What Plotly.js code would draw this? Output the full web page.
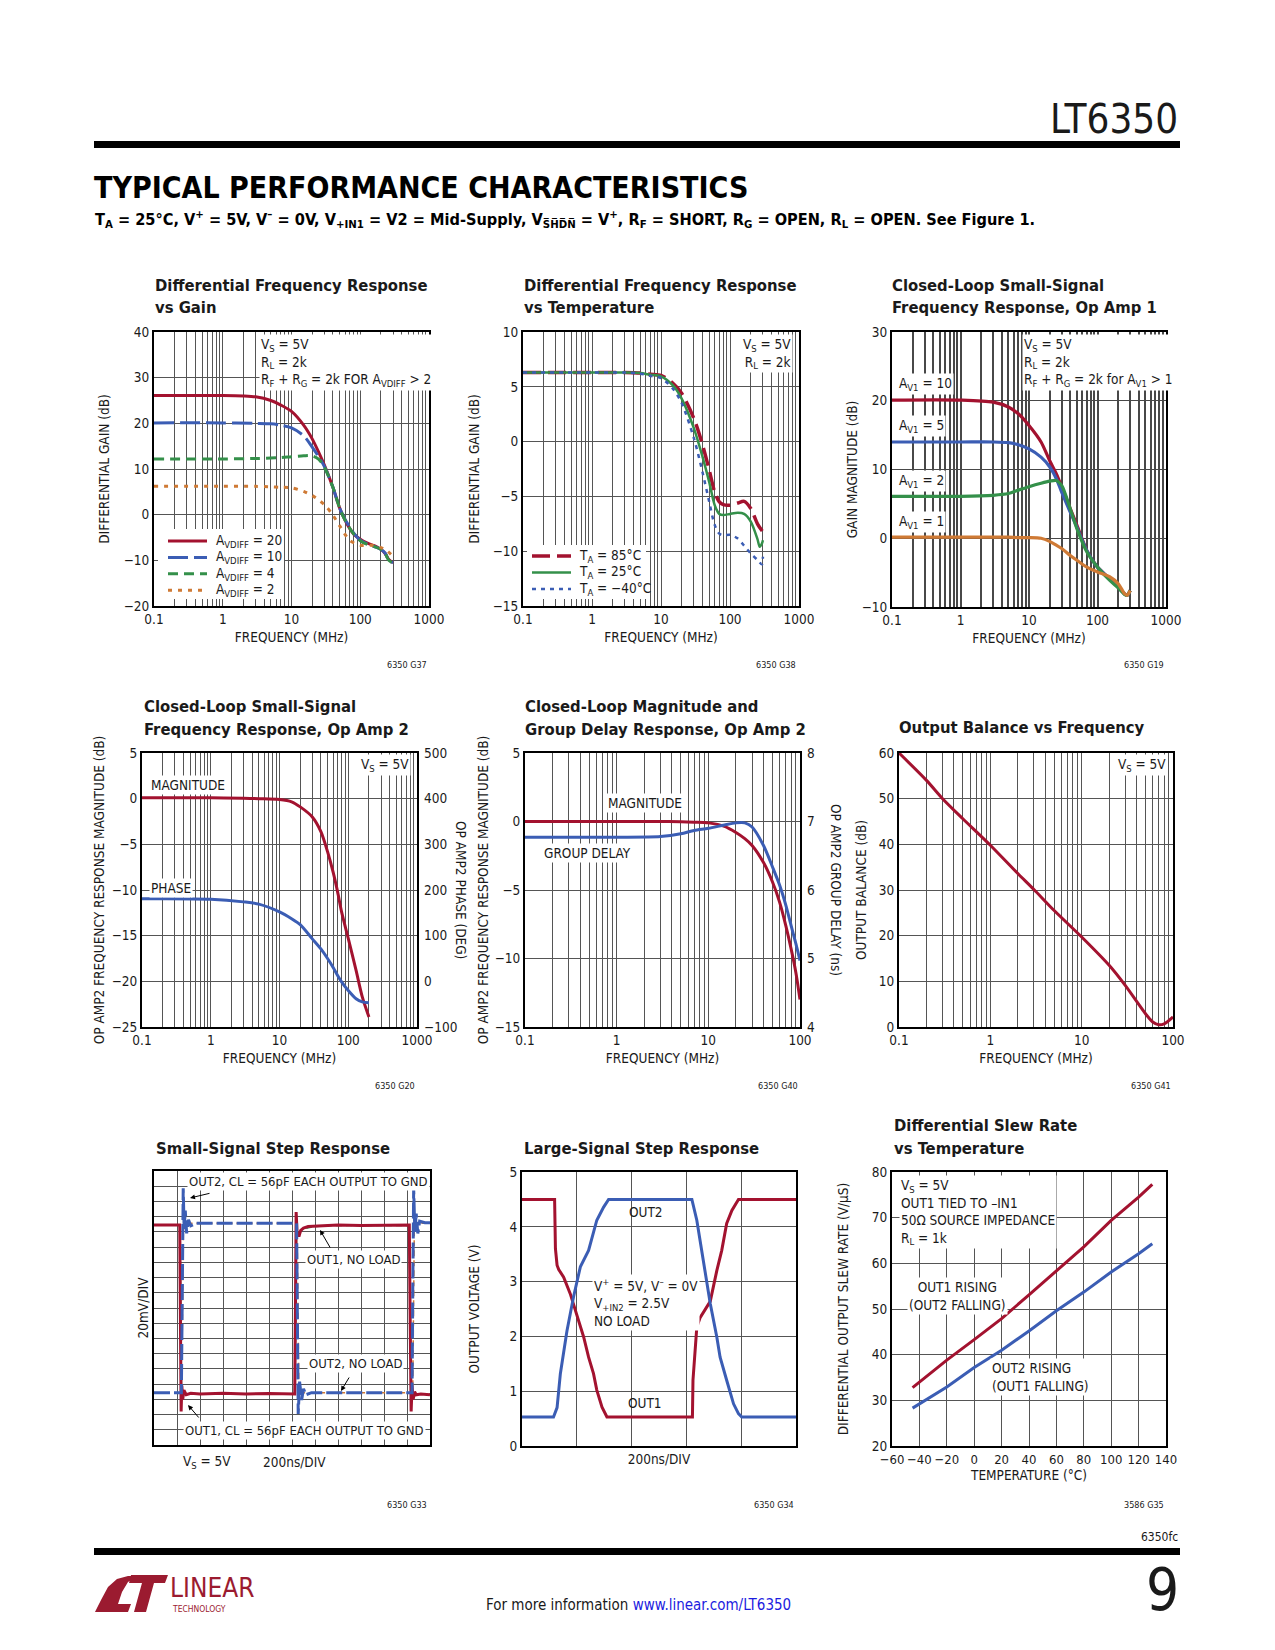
<!DOCTYPE html>
<html><head><meta charset="utf-8">
<script src="https://cdn.plot.ly/plotly-3.0.1.min.js"></script>
<style>html,body{margin:0;padding:0;background:#fff}#page{width:1275px;height:1650px}</style>
</head><body><div id="page"></div>
<script>
// ---------------- DATA ----------------
// Tick labels
const freqLabels1000 = ['0.1','1','10','100','1000'];
const freqLabels100 = ['0.1','1','10','100'];

// G37 Differential Frequency Response vs Gain
const g37FreqA20 = [0.1,0.5,1,2,3,5,7,10,15,20,25,30,40,50,60,70,80,100,130,160,200,230,260,300];
const g37GainA20 = [26.1,26.1,26.1,26.0,25.8,25.0,24.0,22.6,19.6,16.6,13.6,10.9,6.0,1.5,-1.2,-3.0,-4.2,-5.4,-6.3,-6.8,-7.6,-8.5,-9.8,-10.5];
const g37FreqA10 = [0.1,1,3,5,7,10,15,20,25,30,40,50,60,80,100,130,160,200,230,260,300];
const g37GainA10 = [20.1,20.1,20.0,19.9,19.6,19.0,17.3,14.8,12.6,10.6,6.0,1.5,-1.0,-4.0,-5.6,-6.5,-7.0,-7.6,-8.4,-10.0,-10.5];
const g37FreqA4 = [0.1,1,3,5,7,10,15,20,25,30,40,50,60,80,100,130,160,200,230,260,300];
const g37GainA4 = [12.2,12.2,12.3,12.4,12.5,12.7,12.9,12.9,12.1,10.4,6.0,1.5,-1.2,-4.2,-5.7,-6.6,-7.0,-7.6,-8.5,-10.0,-10.6];
const g37FreqA2 = [0.1,1,3,5,7,10,15,20,30,40,50,70,100,150,200,250,300];
const g37GainA2 = [6.2,6.2,6.2,6.1,6.0,5.9,5.1,4.2,2.2,-0.1,-2.4,-5.6,-6.7,-6.7,-7.2,-8.0,-9.2];
const g37Names = ['A<sub>VDIFF</sub> = 20','A<sub>VDIFF</sub> = 10','A<sub>VDIFF</sub> = 4','A<sub>VDIFF</sub> = 2'];

// G38 Differential Frequency Response vs Temperature
const g38Freq85 = [0.1,1,3,5,7,10,15,20,30,40,50,60,70,80,100,130,160,200,250,300];
const g38Gain85 = [6.3,6.3,6.3,6.25,6.15,6.05,5.3,4.4,2.1,-0.3,-2.6,-4.6,-5.5,-5.75,-5.8,-5.6,-5.45,-6.1,-7.5,-8.25];
const g38Freq25 = [0.1,1,3,5,7,10,15,20,30,40,50,60,70,80,100,130,160,200,250,270,290,300];
const g38Gain25 = [6.3,6.3,6.3,6.25,6.1,5.95,5.1,3.9,1.2,-1.4,-3.7,-5.8,-6.6,-6.7,-6.6,-6.5,-6.6,-7.3,-8.9,-9.6,-9.3,-9.0];
const g38FreqM40 = [0.1,1,3,5,7,10,15,20,30,40,50,60,70,80,100,130,160,200,250,290,300];
const g38GainM40 = [6.3,6.3,6.3,6.2,6.0,5.8,4.8,3.5,0.3,-2.8,-5.5,-7.6,-8.4,-8.55,-8.5,-8.85,-9.5,-10.2,-10.8,-11.2,-10.5];
const g38Names = ['T<sub>A</sub> = 85°C','T<sub>A</sub> = 25°C','T<sub>A</sub> = −40°C'];

// G19 Closed-Loop Small-Signal Frequency Response, Op Amp 1
const g19Freq = [0.1,1,3,5,7,10,15,20,25,30,40,50,70,100,150,200,250,270,300];
const g19Av10 = [20.1,20.1,19.8,19.1,18.1,16.4,14.0,11.3,9.4,7.5,4.3,1.9,-1.8,-4.2,-5.9,-7.1,-8.1,-8.3,-7.6];
const g19Av5 = [14.0,14.0,14.0,13.9,13.6,13.0,11.8,10.4,8.7,6.7,3.8,1.6,-1.8,-4.2,-5.9,-7.1,-8.1,-8.3,-7.6];
const g19Av2 = [6.1,6.1,6.25,6.5,7.0,7.5,8.0,8.3,8.4,7.7,4.3,1.4,-2.0,-4.2,-6.1,-7.2,-8.2,-8.3,-7.6];
const g19Av1 = [0.15,0.15,0.15,0.15,0.1,0.1,0.0,-0.45,-1.0,-1.5,-2.5,-3.2,-4.2,-4.9,-5.6,-6.6,-8.1,-8.3,-7.6];

// G20 Closed-Loop Small-Signal Frequency Response, Op Amp 2
const g20Freq = [0.1,1,3,5,10,15,20,30,40,50,60,70,80,100,130,160,200];
const g20Mag = [0.1,0.1,0.05,0.0,-0.1,-0.35,-0.9,-2.0,-3.6,-5.8,-8.0,-10.2,-12.4,-15.3,-18.8,-21.7,-23.9];
const g20Phase = [181,180,174,169,152,137,124,93,71,50,31,13,-1,-20,-38,-45,-47];

// G40 Closed-Loop Magnitude and Group Delay Response, Op Amp 2
const g40Freq = [0.1,1,3,5,7,10,15,20,25,30,40,50,60,70,80,90,100];
const g40Mag = [0.0,0.0,0.0,-0.02,-0.05,-0.1,-0.35,-0.8,-1.25,-1.75,-3.0,-4.4,-5.9,-7.6,-9.3,-11.0,-13.0];
const g40Delay = [6.77,6.77,6.78,6.82,6.87,6.9,6.95,6.98,6.98,6.92,6.65,6.34,6.07,5.78,5.48,5.22,4.97];

// G41 Output Balance vs Frequency
const g41Freq = [0.1,0.2,0.3,0.5,1,2,3,5,10,20,30,50,60,70,80,100];
const g41Balance = [60,54,50,45.6,39.8,33.6,30.1,25.5,19.7,13.5,9.1,2.9,1.1,0.5,0.7,2.2];

// G33 Small-Signal Step Response (time and level in screen divisions)
const g33Out1ClT = [0,1.12,1.15,1.18,1.21,1.25,1.3,1.4,1.6,2,3,4,5,6.12,6.15,6.18,6.22,6.3,6.38,6.5,6.7,7.2,8,9,10,11.1,11.14,11.18,11.22,11.27,11.33,11.4,11.6,12];
const g33Out1ClV = [14.45,14.45,8,2.2,3.9,3.0,3.6,3.3,3.4,3.35,3.4,3.35,3.38,3.35,9,15.3,14.0,13.7,14.1,14.25,14.35,14.4,14.45,14.42,14.45,14.45,8,2.2,3.9,3.0,3.5,3.3,3.35,3.3];
const g33Out2ClT = [0,1.19,1.23,1.27,1.31,1.36,1.42,1.5,1.6,1.84,3,4,5,6.2,6.23,6.27,6.33,6.42,6.5,6.6,6.85,8,9,10,11.22,11.25,11.29,11.34,11.4,11.47,11.55,11.78,12];
const g33Out2ClV = [3.44,3.44,10,16.86,14.2,15.4,13.9,14.8,14.4,14.56,14.56,14.56,14.56,14.56,9,2.04,4.16,2.96,3.7,3.3,3.44,3.44,3.44,3.44,3.44,10,16.86,14.0,15.2,13.9,14.7,14.6,14.6];
const g33Out1NlT = [0,1.13,1.2,6.13,6.2,6.5,7.0,7.5,11.1,11.17,12];
const g33Out1NlV = [14.45,14.45,3.35,3.35,13.9,14.2,14.35,14.42,14.42,3.35,3.35];
const g33Out2NlT = [0,1.2,1.28,6.22,6.3,11.25,11.32,12];
const g33Out2NlV = [3.44,3.44,14.56,14.56,3.44,3.44,14.56,14.56];

// G34 Large-Signal Step Response (ns, V)
const g34Out1T = [0,119,122,128,134,152,176,200,225,243,261,273,292,310,334,622,624,632,638,650,674,687,711,729,747,766,790,1000];
const g34Out1V = [4.5,4.5,3.6,3.3,3.22,3.08,2.78,2.41,1.99,1.62,1.32,1.02,0.71,0.53,0.53,0.53,1.2,1.87,2.17,2.34,2.55,2.64,3.2,3.57,4.06,4.3,4.5,4.5];
const g34Out2T = [0,115,128,140,164,188,213,243,273,298,316,620,638,662,687,711,723,747,772,790,802,1000];
const g34Out2V = [0.53,0.53,0.7,1.32,2.1,2.72,3.27,3.57,4.12,4.36,4.5,4.5,4.12,3.39,2.6,1.99,1.62,1.2,0.77,0.59,0.53,0.53];

// G35 Differential Slew Rate vs Temperature
const g35Temp = [-45,-20,0,20,40,60,80,100,120,130];
const g35Out1Rising = [32.8,38.8,43.3,47.9,53.1,58.3,63.6,69.4,74.5,77.3];
const g35Out2Rising = [28.3,32.9,37.2,40.95,45.2,49.6,53.7,58.1,62.1,64.3];

// ---------------- STYLE / HELPERS ----------------
const W = 1275, H = 1650;
const NARROW = '"Liberation Sans Narrow","DejaVu Sans Condensed",sans-serif';
const TXT = '#1a1a1a';
const RED = '#a3122f', BLUE = '#3b5db4', GREEN = '#34904a', ORANGE = '#cf7a35';
const GRID = '#555555';
const px = x => x / W, py = y => 1 - y / H;
const dx = (a, b) => [a / W, b / W];
const dy = (top, bot) => [1 - bot / H, 1 - top / H];

function logTicks(d0, d1, labels) {
  const major = [], minor = [];
  for (let e = d0; e <= d1; e++) {
    major.push(Math.pow(10, e));
    if (e < d1) for (let m = 2; m < 10; m++) minor.push(m * Math.pow(10, e));
  }
  return { major, minor, labels };
}
const t1000 = logTicks(-1, 3, freqLabels1000);
const t100 = logTicks(-1, 2, freqLabels100);

const tickFont = { family: NARROW, size: 13.5, color: TXT };
const titleFont = { family: NARROW, size: 13.5, color: TXT };
const noteFont = { family: NARROW, size: 13.5, color: TXT };
function baseAx(extra) {
  return Object.assign({
    showline: true, mirror: true, linecolor: '#000', linewidth: 2,
    showgrid: true, gridcolor: GRID, gridwidth: 1, zeroline: false,
    ticks: '', tickfont: tickFont, tickangle: 0, fixedrange: true
  }, extra);
}
function logX(domain, anchor, t, decades, title, gw, gc) {
  return baseAx({ domain, anchor, type: 'log', range: decades, tickmode: 'array', tickvals: t.major, ticktext: t.labels,
    gridwidth: gw || 1, gridcolor: gc || GRID,
    minor: { tickmode: 'array', tickvals: t.minor, showgrid: true, gridcolor: gc || GRID, gridwidth: gw || 1, ticks: '' },
    title: title ? { text: title, font: titleFont, standoff: 6 } : undefined });
}
function linY(domain, anchor, range, dtick, title, standoff, gw, gc) {
  return baseAx({ domain, anchor, range, dtick, tick0: range[0], gridwidth: gw || 1, gridcolor: gc || GRID,
    title: title ? { text: title, font: titleFont, standoff: standoff } : undefined });
}
function tr(x, y, xa, ya, color, width, dash, name, shape) {
  return { type: 'scatter', mode: 'lines', x, y, xaxis: xa, yaxis: ya, name: name || '',
    showlegend: false, hoverinfo: 'skip',
    line: { color, width, dash: dash || 'solid', shape: shape || 'spline', smoothing: 0.8 } };
}

const DASH_A10 = '20px,6px', DASH_A4 = '10px,6px', DASH_A2 = '4px,6px';
const DASH_85 = '18px,7px', DASH_M40 = '4px,5px';

// ---------------- TRACES ----------------
const data = [
  // chart 1
  tr(g37FreqA20, g37GainA20, 'x', 'y', RED, 3, 'solid', g37Names[0]),
  tr(g37FreqA10, g37GainA10, 'x', 'y', BLUE, 3, DASH_A10, g37Names[1]),
  tr(g37FreqA4, g37GainA4, 'x', 'y', GREEN, 3, DASH_A4, g37Names[2]),
  tr(g37FreqA2, g37GainA2, 'x', 'y', ORANGE, 3, DASH_A2, g37Names[3]),
  // chart 2
  tr(g38Freq85, g38Gain85, 'x2', 'y2', RED, 3.5, DASH_85, g38Names[0]),
  tr(g38Freq25, g38Gain25, 'x2', 'y2', GREEN, 2.5, 'solid', g38Names[1]),
  tr(g38FreqM40, g38GainM40, 'x2', 'y2', BLUE, 2.5, DASH_M40, g38Names[2]),
  // chart 3
  tr(g19Freq, g19Av10, 'x3', 'y3', RED, 3.2, 'solid', 'AV1 = 10'),
  tr(g19Freq, g19Av5, 'x3', 'y3', BLUE, 3.2, 'solid', 'AV1 = 5'),
  tr(g19Freq, g19Av2, 'x3', 'y3', GREEN, 3.2, 'solid', 'AV1 = 2'),
  tr(g19Freq, g19Av1, 'x3', 'y3', ORANGE, 3.2, 'solid', 'AV1 = 1'),
  // chart 4
  tr(g20Freq, g20Mag, 'x4', 'y4', RED, 3, 'solid', 'MAGNITUDE'),
  tr(g20Freq, g20Phase, 'x4', 'y10', BLUE, 3, 'solid', 'PHASE'),
  // chart 5
  tr(g40Freq, g40Mag, 'x5', 'y5', RED, 3, 'solid', 'MAGNITUDE'),
  tr(g40Freq, g40Delay, 'x5', 'y11', BLUE, 3, 'solid', 'GROUP DELAY'),
  // chart 6
  tr(g41Freq, g41Balance, 'x6', 'y6', RED, 3, 'solid', 'OUTPUT BALANCE'),
  // chart 7
  tr(g33Out1NlT, g33Out1NlV, 'x7', 'y7', GREEN, 1.5, '6px,4px', 'OUT1, NO LOAD', 'linear'),
  tr(g33Out2NlT, g33Out2NlV, 'x7', 'y7', ORANGE, 1.5, '6px,4px', 'OUT2, NO LOAD', 'linear'),
  tr(g33Out1ClT, g33Out1ClV, 'x7', 'y7', RED, 3, 'solid', 'OUT1, CL = 56pF', 'linear'),
  tr(g33Out2ClT, g33Out2ClV, 'x7', 'y7', BLUE, 3, '16px,4px', 'OUT2, CL = 56pF', 'linear'),
  // chart 8
  tr(g34Out1T, g34Out1V, 'x8', 'y8', RED, 3, 'solid', 'OUT1', 'linear'),
  tr(g34Out2T, g34Out2V, 'x8', 'y8', BLUE, 3, 'solid', 'OUT2', 'linear'),
  // chart 9
  tr(g35Temp, g35Out1Rising, 'x9', 'y9', RED, 3, 'solid', 'OUT1 RISING', 'linear'),
  tr(g35Temp, g35Out2Rising, 'x9', 'y9', BLUE, 3, 'solid', 'OUT2 RISING', 'linear')
];

// ---------------- LAYOUT ----------------
const rightAx = (overlay, anchor, range, dtick) => ({ overlaying: overlay, anchor, side: 'right', range, dtick, tick0: range[0],
  showgrid: false, showline: false, zeroline: false, ticks: '', tickfont: tickFont, ticklabelstandoff: 6, fixedrange: true });
const layout = {
  width: W, height: H, margin: { l: 0, r: 0, t: 0, b: 0 },
  paper_bgcolor: '#fff', plot_bgcolor: '#fff', showlegend: false,
  font: { family: NARROW, color: TXT },
  // chart 1
  xaxis: logX(dx(154, 429), 'y', t1000, [-1, 3], 'FREQUENCY (MHz)'),
  yaxis: linY(dy(332, 606), 'x', [-20, 40], 10, 'DIFFERENTIAL GAIN (dB)', 11),
  // chart 2
  xaxis2: logX(dx(523, 799), 'y2', t1000, [-1, 3], 'FREQUENCY (MHz)'),
  yaxis2: linY(dy(332, 606), 'x2', [-15, 10], 5, 'DIFFERENTIAL GAIN (dB)', 10),
  // chart 3 (heavier grid in the reference)
  xaxis3: logX(dx(892, 1166), 'y3', t1000, [-1, 3], 'FREQUENCY (MHz)', 2, '#484848'),
  yaxis3: linY(dy(332, 607), 'x3', [-10, 30], 10, 'GAIN MAGNITUDE (dB)', 1, 1.3, '#484848'),
  // chart 4
  xaxis4: logX(dx(142, 417), 'y4', t1000, [-1, 3], 'FREQUENCY (MHz)'),
  yaxis4: linY(dy(753, 1027), 'x4', [-25, 5], 5, 'OP AMP2 FREQUENCY RESPONSE MAGNITUDE (dB)', 4),
  yaxis10: rightAx('y4', 'x4', [-100, 500], 100),
  // chart 5
  xaxis5: logX(dx(525, 800), 'y5', t100, [-1, 2], 'FREQUENCY (MHz)'),
  yaxis5: linY(dy(753, 1027), 'x5', [-15, 5], 5, 'OP AMP2 FREQUENCY RESPONSE MAGNITUDE (dB)', 3),
  yaxis11: rightAx('y5', 'x5', [4, 8], 1),
  // chart 6
  xaxis6: logX(dx(899, 1173), 'y6', t100, [-1, 2], 'FREQUENCY (MHz)'),
  yaxis6: linY(dy(753, 1027), 'x6', [0, 60], 10, 'OUTPUT BALANCE (dB)', 9),
  // chart 7
  xaxis7: baseAx({ domain: dx(154, 430), anchor: 'y7', range: [0, 12], dtick: 1, tick0: 0, showticklabels: false }),
  yaxis7: baseAx({ domain: dy(1171, 1445), anchor: 'x7', range: [0, 18], dtick: 1, tick0: 0, showticklabels: false,
    title: { text: '20mV/DIV', font: titleFont, standoff: 0 } }),
  // chart 8
  xaxis8: baseAx({ domain: dx(522, 796), anchor: 'y8', range: [0, 1000], dtick: 200, tick0: 0, showticklabels: false,
    title: { text: '200ns/DIV', font: titleFont, standoff: 8 } }),
  yaxis8: linY(dy(1172, 1446), 'x8', [0, 5], 1, 'OUTPUT VOLTAGE (V)', 27),
  // chart 9
  xaxis9: baseAx({ domain: dx(892, 1166), anchor: 'y9', range: [-60, 140], dtick: 20, tick0: -60,
    tickfont: { family: NARROW, size: 13, color: TXT },
    title: { text: 'TEMPERATURE (°C)', font: titleFont, standoff: 5 } }),
  yaxis9: linY(dy(1172, 1446), 'x9', [20, 80], 10, 'DIFFERENTIAL OUTPUT SLEW RATE (V/μS)', 20),
  shapes: [],
  annotations: []
};

// page decorations (pixel positions converted to paper)
const A = layout.annotations, S = layout.shapes;
function note(text, x, y, opts) {
  A.push(Object.assign({ text, x: px(x), y: py(y), xref: 'paper', yref: 'paper', showarrow: false,
    xanchor: 'left', yanchor: 'middle', align: 'left', font: noteFont }, opts || {}));
}
function arrow(hx, hy, tx, ty) {
  A.push({ text: '', x: px(hx), y: py(hy), xref: 'paper', yref: 'paper', showarrow: true,
    ax: tx - hx, ay: ty - hy, arrowhead: 2, arrowsize: 1, arrowwidth: 1, arrowcolor: '#000', standoff: 0 });
}
function rect(x0, y0, x1, y1, color) {
  S.push({ type: 'rect', xref: 'paper', yref: 'paper', x0: px(x0), x1: px(x1), y0: py(y0), y1: py(y1),
    fillcolor: color, line: { width: 0 }, layer: 'above' });
}
function seg(x0, x1, y, color, width, dash) {
  S.push({ type: 'line', xref: 'paper', yref: 'paper', x0: px(x0), x1: px(x1), y0: py(y), y1: py(y),
    line: { color, width, dash }, layer: 'above' });
}
function pathPx(pts, color) {
  const d = pts.map((p, i) => (i ? 'L' : 'M') + px(p[0]).toFixed(5) + ',' + py(p[1]).toFixed(5)).join(' ') + ' Z';
  S.push({ type: 'path', xref: 'paper', yref: 'paper', path: d, fillcolor: color, line: { width: 0 } });
}
const titleStyle = { font: { family: NARROW, size: 16.5, color: TXT, weight: 'bold' } };
function chartTitle(lines, x, y1) {
  lines.forEach((l, i) => note(l, x, y1 + i * 23, titleStyle));
}

// header
note('LT6350', 1180, 119, { xanchor: 'right', font: { family: NARROW, size: 40, color: TXT } });
rect(94, 141, 1180, 148, '#000');
note('TYPICAL PERFORMANCE CHARACTERISTICS', 92, 188, { font: { family: NARROW, size: 30, color: '#000', weight: 'bold' } });
note('T<sub>A</sub> = 25°C, V<sup>+</sup> = 5V, V<sup>–</sup> = 0V, V<sub>+IN1</sub> = V2 = Mid-Supply, V<sub>S̅H̅D̅N̅</sub> = V<sup>+</sup>, R<sub>F</sub> = SHORT, R<sub>G</sub> = OPEN, R<sub>L</sub> = OPEN. See Figure 1.',
  93, 219, { font: { family: NARROW, size: 16.2, color: '#000', weight: 'bold' } });

// chart titles
chartTitle(['Differential Frequency Response', 'vs Gain'], 153, 285);
chartTitle(['Differential Frequency Response', 'vs Temperature'], 522, 285);
chartTitle(['Closed-Loop Small-Signal', 'Frequency Response, Op Amp 1'], 890, 285);
chartTitle(['Closed-Loop Small-Signal', 'Frequency Response, Op Amp 2'], 142, 706);
chartTitle(['Closed-Loop Magnitude and', 'Group Delay Response, Op Amp 2'], 523, 706);
chartTitle(['Output Balance vs Frequency'], 897, 728);
chartTitle(['Small-Signal Step Response'], 154, 1148);
chartTitle(['Large-Signal Step Response'], 522, 1148);
chartTitle(['Differential Slew Rate', 'vs Temperature'], 892, 1125);

// chart 1 notes + legend
note('V<sub>S</sub> = 5V<br>R<sub>L</sub> = 2k<br>R<sub>F</sub> + R<sub>G</sub> = 2k FOR A<sub>VDIFF</sub> > 2', 259, 334, { yanchor: 'top', bgcolor: '#fff' });
rect(158, 529, 284, 599, '#fff');
[[RED, 'solid'], [BLUE, DASH_A10], [GREEN, DASH_A4], [ORANGE, DASH_A2]].forEach((s, i) => {
  const y = 541 + i * 16.4;
  seg(168, 207, y, s[0], 3, s[1]);
  note(g37Names[i], 214, y);
});
// chart 2 notes + legend
note('V<sub>S</sub> = 5V<br>R<sub>L</sub> = 2k', 793, 334, { yanchor: 'top', xanchor: 'right', align: 'right', bgcolor: '#fff' });
rect(527, 545, 646, 599, '#fff');
[[RED, DASH_85, 3.5], [GREEN, 'solid', 2.5], [BLUE, DASH_M40, 2.5]].forEach((s, i) => {
  const y = 556 + i * 16.5;
  seg(532, 571, y, s[0], s[2], s[1]);
  note(g38Names[i], 577, y);
});
// chart 3 notes
note('A<sub>V1</sub> = 10', 897, 384, { bgcolor: '#fff' });
note('A<sub>V1</sub> = 5', 897, 426, { bgcolor: '#fff' });
note('A<sub>V1</sub> = 2', 897, 481, { bgcolor: '#fff' });
note('A<sub>V1</sub> = 1', 897, 522, { bgcolor: '#fff' });
note('V<sub>S</sub> = 5V<br>R<sub>L</sub> = 2k<br>R<sub>F</sub> + R<sub>G</sub> = 2k for A<sub>V1</sub> > 1', 1022, 334, { yanchor: 'top', bgcolor: '#fff' });
// chart 4 notes
note('MAGNITUDE', 149, 785, { bgcolor: '#fff' });
note('PHASE', 149, 888, { bgcolor: '#fff' });
note('V<sub>S</sub> = 5V', 411, 765, { xanchor: 'right', bgcolor: '#fff' });
note('OP AMP2 PHASE (DEG)', 461, 890, { xanchor: 'center', textangle: 90, font: titleFont });
// chart 5 notes
note('MAGNITUDE', 645, 803, { xanchor: 'center', bgcolor: '#fff' });
note('GROUP DELAY', 587, 853, { xanchor: 'center', bgcolor: '#fff' });
note('OP AMP2 GROUP DELAY (ns)', 836, 890, { xanchor: 'center', textangle: 90, font: titleFont });
// chart 6 notes
note('V<sub>S</sub> = 5V', 1168, 765, { xanchor: 'right', bgcolor: '#fff' });
// chart 7 notes
const n7 = { bgcolor: '#fff', font: { family: NARROW, size: 13, color: TXT } };
note('OUT2, CL = 56pF EACH OUTPUT TO GND', 187, 1181, n7);
note('OUT1, NO LOAD', 305, 1259, n7);
note('OUT2, NO LOAD', 307, 1363, n7);
note('OUT1, CL = 56pF EACH OUTPUT TO GND', 183, 1430, n7);
arrow(190, 1198, 211, 1193);
arrow(320, 1230, 331, 1249);
arrow(341, 1391, 350, 1376);
arrow(188, 1405, 200, 1419);
note('V<sub>S</sub> = 5V', 181, 1462);
note('200ns/DIV', 261, 1462);
// chart 8 notes
note('OUT2', 646, 1212, { xanchor: 'center' });
note('OUT1', 645, 1403, { xanchor: 'center' });
note('V<sup>+</sup> = 5V, V<sup>–</sup> = 0V<br>V<sub>+IN2</sub> = 2.5V<br>NO LOAD', 592, 1274, { yanchor: 'top', bgcolor: '#fff' });
// chart 9 notes
note('V<sub>S</sub> = 5V<br>OUT1 TIED TO –IN1<br>50Ω SOURCE IMPEDANCE<br>R<sub>L</sub> = 1k', 899, 1175, { yanchor: 'top', bgcolor: '#fff' });
note('OUT1 RISING<br>(OUT2 FALLING)', 957, 1296, { xanchor: 'center', align: 'center', bgcolor: '#fff' });
note('OUT2 RISING<br>(OUT1 FALLING)', 990, 1377, { bgcolor: '#fff' });

// figure codes
const codeFont = { family: NARROW, size: 9, color: TXT };
[['6350 G37', 429, 665], ['6350 G38', 798, 665], ['6350 G19', 1166, 665],
 ['6350 G20', 417, 1086], ['6350 G40', 800, 1086], ['6350 G41', 1173, 1086],
 ['6350 G33', 429, 1505], ['6350 G34', 796, 1505], ['3586 G35', 1166, 1505]].forEach(c =>
  note(c[0], c[1], c[2], { xanchor: 'right', font: codeFont }));

// footer
note('6350fc', 1180, 1537, { xanchor: 'right', font: { family: NARROW, size: 12, color: TXT } });
rect(94, 1548, 1180, 1555, '#000');
note('For more information <span style="color:#1c1ce0">www.linear.com/LT6350</span>', 638, 1605,
  { xanchor: 'center', font: { family: NARROW, size: 15, color: TXT } });
note('9', 1181, 1590, { xanchor: 'right', font: { family: NARROW, size: 58, color: TXT } });
// logo
const LOGO = '#9b1b30';
pathPx([[95,1612],[101,1600],[108,1587],[117,1579],[128,1576],[138,1576],[128,1582],[122,1592],[118,1604],[131,1604],[128,1612]], LOGO);
pathPx([[131,1575],[168,1575],[165,1583],[154,1583],[146,1612],[134,1612],[142,1583],[129,1583]], LOGO);
note('LINEAR', 168, 1588, { font: { family: NARROW, size: 26, color: LOGO } });
note('TECHNOLOGY', 170, 1609, { font: { family: NARROW, size: 8.5, color: LOGO } });

Plotly.newPlot('page', data, layout, { staticPlot: true, displayModeBar: false });
</script></body></html>
